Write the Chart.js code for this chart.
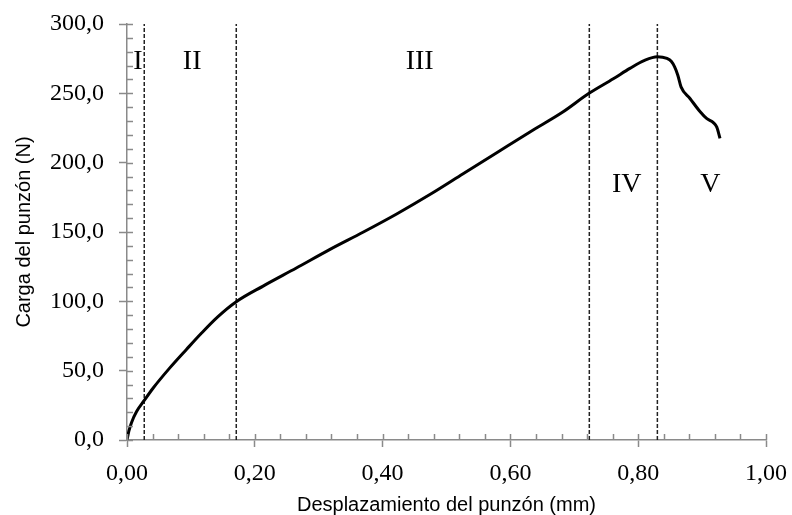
<!DOCTYPE html>
<html>
<head>
<meta charset="utf-8">
<script src="https://cdn.jsdelivr.net/npm/chart.js@4.4.1/dist/chart.umd.min.js"></script>
<style>
  html, body { margin: 0; padding: 0; background: #fff; }
  #wrap { width: 792px; height: 515px; }
</style>
</head>
<body>
<div id="wrap"><canvas id="c" width="792" height="515"></canvas></div>
<script>
// Desplazamiento del punzón (mm)
const displacement = [0, 0.003, 0.007, 0.015, 0.027, 0.041, 0.067, 0.093, 0.116, 0.142, 0.171, 0.213, 0.265, 0.317, 0.370, 0.422, 0.474, 0.526, 0.578, 0.630, 0.682, 0.723, 0.761, 0.787, 0.810, 0.830, 0.845, 0.852, 0.857, 0.862, 0.867, 0.881, 0.897, 0.907, 0.918, 0.923, 0.928];
// Carga del punzón (N)
const load = [0, 6.5, 12.5, 20.5, 28.5, 37.5, 52.0, 65.3, 76.8, 88.8, 99.7, 111.0, 124.0, 137.3, 150.0, 163.0, 177.0, 192.0, 207.0, 222.0, 236.5, 250.0, 260.5, 268.0, 273.8, 276.4, 275.2, 273.0, 269.1, 263.1, 254.7, 246.3, 236.7, 231.9, 228.7, 225.6, 217.5];

// Region boundaries (mm) and region labels
const boundaries = [0.027, 0.171, 0.7235, 0.830];
const regionNames = ['I', 'II', 'III', 'IV', 'V'];
const regionLabelX = [0.017, 0.102, 0.458, 0.782, 0.913];
const regionLabelY = [273, 273, 273, 184, 184];

const xTicks = [0, 0.2, 0.4, 0.6, 0.8, 1.0];
const yTicks = [0, 50, 100, 150, 200, 250, 300];
const xMinorStep = 0.04;
const yMinorStep = 10;

const AXIS_GRAY = '#8a8a8a';

const datasets = [{
  data: displacement.map((x, i) => ({ x: x, y: load[i] })),
  borderColor: '#000',
  borderWidth: 3,
  pointRadius: 0,
  fill: false,
  cubicInterpolationMode: 'monotone',
  order: 0
}];
boundaries.forEach(b => {
  datasets.push({
    data: [{ x: b, y: 0 }, { x: b, y: 300 }],
    borderColor: '#222',
    borderWidth: 1.5,
    borderDash: [4, 2],
    pointRadius: 0,
    fill: false,
    order: 1
  });
});

const extrasPlugin = {
  id: 'extras',
  afterDatasetsDraw(chart) {
    const ctx = chart.ctx;
    const xs = chart.scales.x, ys = chart.scales.y;
    const x0 = xs.getPixelForValue(0);
    const y0 = ys.getPixelForValue(0);
    ctx.save();
    ctx.strokeStyle = AXIS_GRAY;
    ctx.lineWidth = 1.5;
    ctx.beginPath();
    for (let v = 0; v <= 300 + 1e-9; v += yMinorStep) {
      const p = Math.round(ys.getPixelForValue(v)) + 0.5;
      ctx.moveTo(x0, p); ctx.lineTo(x0 + 6, p);
    }
    for (let v = 0; v <= 1 + 1e-9; v += xMinorStep) {
      const p = Math.round(xs.getPixelForValue(v)) + 0.5;
      ctx.moveTo(p, y0); ctx.lineTo(p, y0 - 6);
    }
    ctx.stroke();
    ctx.fillStyle = '#000';
    ctx.font = '28px "Liberation Serif", "Times New Roman", serif';
    ctx.textAlign = 'center';
    ctx.textBaseline = 'middle';
    regionNames.forEach((n, i) => {
      ctx.fillText(n, xs.getPixelForValue(regionLabelX[i]), ys.getPixelForValue(regionLabelY[i]));
    });
    ctx.restore();
  }
};

new Chart(document.getElementById('c'), {
  type: 'line',
  data: { datasets: datasets },
  options: {
    responsive: false,
    animation: false,
    devicePixelRatio: 1,
    layout: { padding: { left: 0, top: 24, right: 26, bottom: 0 } },
    plugins: { legend: { display: false }, tooltip: { enabled: false } },
    scales: {
      x: {
        type: 'linear',
        min: 0, max: 1,
        afterBuildTicks: s => { s.ticks = xTicks.map(v => ({ value: v })); },
        afterFit: s => { s.height = 75; s.paddingLeft = 0; s.paddingRight = 0; },
        border: { display: true, color: AXIS_GRAY, width: 1.5 },
        grid: { display: true, drawOnChartArea: false, drawTicks: true, tickLength: 7, tickColor: AXIS_GRAY, tickWidth: 1.5 },
        ticks: {
          color: '#000',
          padding: 12,
          maxRotation: 0,
          font: { family: '"Liberation Serif", "Times New Roman", serif', size: 24 },
          callback: v => Number(v).toFixed(2).replace('.', ',')
        },
        title: {
          display: true,
          text: 'Desplazamiento del punzón (mm)',
          color: '#000',
          font: { family: '"Liberation Sans", Arial, sans-serif', size: 20 },
          padding: { top: 0, bottom: -2 }
        }
      },
      y: {
        type: 'linear',
        min: 0, max: 300,
        afterBuildTicks: s => { s.ticks = yTicks.map(v => ({ value: v })); },
        afterFit: s => { s.width = 127; s.paddingTop = 0; s.paddingBottom = 0; },
        border: { display: true, color: AXIS_GRAY, width: 1.5 },
        grid: { display: true, drawOnChartArea: false, drawTicks: true, tickLength: 8, tickColor: AXIS_GRAY, tickWidth: 1.5 },
        ticks: {
          color: '#000',
          padding: 15,
          font: { family: '"Liberation Serif", "Times New Roman", serif', size: 24 },
          callback: v => Number(v).toFixed(1).replace('.', ',')
        },
        title: {
          display: true,
          text: 'Carga del punzón (N)',
          color: '#000',
          font: { family: '"Liberation Sans", Arial, sans-serif', size: 20 },
          padding: { top: 12, bottom: 0 }
        }
      }
    }
  },
  plugins: [extrasPlugin]
});
</script>
</body>
</html>
